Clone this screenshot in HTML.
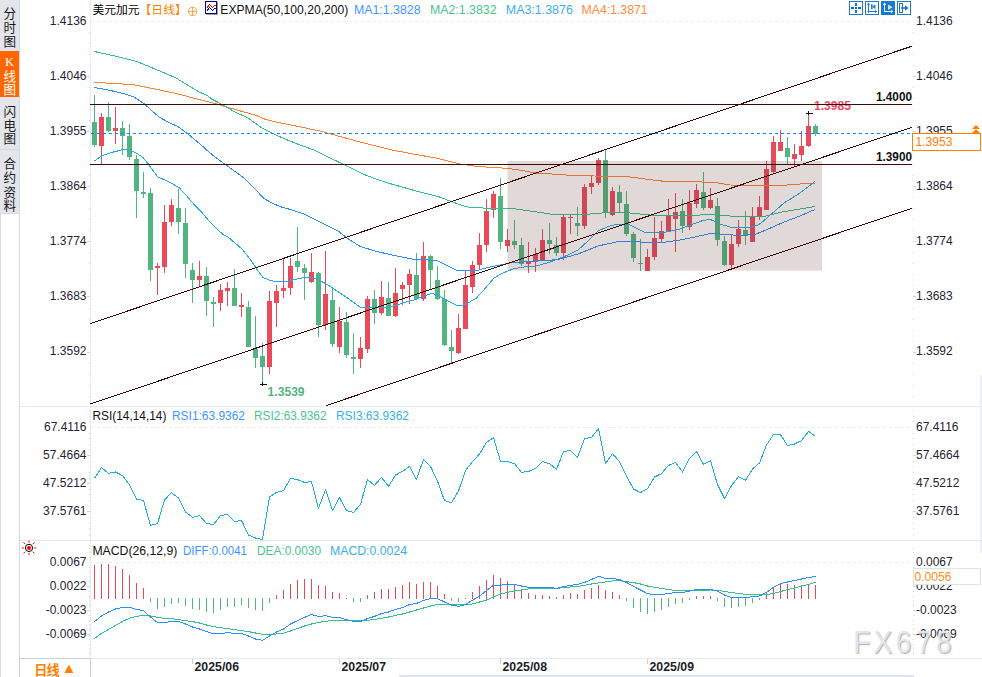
<!DOCTYPE html>
<html><head><meta charset="utf-8"><title>chart</title>
<style>html,body{margin:0;padding:0;background:#fff;}body{width:982px;height:677px;overflow:hidden;font-family:"Liberation Sans",sans-serif;}svg{display:block}</style>
</head><body>
<svg width="982" height="677" viewBox="0 0 982 677" font-family="'Liberation Sans', sans-serif">
<rect width="982" height="677" fill="#fff"/>
<g shape-rendering="crispEdges">
<rect x="0" y="0" width="19" height="213" fill="#e4e5ea"/>
<rect x="0" y="51" width="19" height="46" fill="#ff6600"/>
<rect x="0" y="149" width="19" height="1" fill="#d3d6dd"/>
<rect x="0" y="213" width="1" height="464" fill="#d5dbe3"/>
<rect x="19" y="0" width="1" height="677" fill="#d2dae3"/>
<rect x="0" y="213" width="19" height="1" fill="#d5dbe3"/>
</g>
<text x="3.4" y="18.09" font-size="12.6" font-family="'Liberation Sans', 'Noto Sans CJK SC', sans-serif" fill="#1a1a1a">分</text>
<text x="3.4" y="32.29" font-size="12.6" font-family="'Liberation Sans', 'Noto Sans CJK SC', sans-serif" fill="#1a1a1a">时</text>
<text x="3.4" y="45.59" font-size="12.6" font-family="'Liberation Sans', 'Noto Sans CJK SC', sans-serif" fill="#1a1a1a">图</text>
<text x="9.5" y="65.9" font-size="12.5" font-family="'Liberation Serif', serif" fill="#fff" text-anchor="middle">K</text>
<text x="3.4" y="80.99" font-size="12.6" font-family="'Liberation Sans', 'Noto Sans CJK SC', sans-serif" fill="#fff">线</text>
<text x="3.4" y="94.29" font-size="12.6" font-family="'Liberation Sans', 'Noto Sans CJK SC', sans-serif" fill="#fff">图</text>
<text x="3.4" y="115.89" font-size="12.6" font-family="'Liberation Sans', 'Noto Sans CJK SC', sans-serif" fill="#1a1a1a">闪</text>
<text x="3.4" y="129.79" font-size="12.6" font-family="'Liberation Sans', 'Noto Sans CJK SC', sans-serif" fill="#1a1a1a">电</text>
<text x="3.4" y="143.19" font-size="12.6" font-family="'Liberation Sans', 'Noto Sans CJK SC', sans-serif" fill="#1a1a1a">图</text>
<text x="3.4" y="167.99" font-size="12.6" font-family="'Liberation Sans', 'Noto Sans CJK SC', sans-serif" fill="#1a1a1a">合</text>
<text x="3.4" y="182.49" font-size="12.6" font-family="'Liberation Sans', 'Noto Sans CJK SC', sans-serif" fill="#1a1a1a">约</text>
<text x="3.4" y="196.99" font-size="12.6" font-family="'Liberation Sans', 'Noto Sans CJK SC', sans-serif" fill="#1a1a1a">资</text>
<text x="3.4" y="210.39" font-size="12.6" font-family="'Liberation Sans', 'Noto Sans CJK SC', sans-serif" fill="#1a1a1a">料</text>
<g shape-rendering="crispEdges">
<rect x="20" y="406" width="962" height="1" fill="#e3e9f0"/>
<rect x="20" y="540" width="962" height="1" fill="#e3e9f0"/>
<rect x="20" y="658" width="962" height="1" fill="#e3e9f0"/>
<rect x="90" y="0" width="1" height="677" fill="#e6ebf2"/>
<rect x="399" y="675" width="515" height="2" fill="#dfe5ec"/>
<rect x="980" y="375" width="2" height="178" fill="#ecf0f6"/>
</g>
<line x1="91" y1="21.5" x2="909" y2="21.5" stroke="#e5ecf3" stroke-width="1" stroke-dasharray="3,3"/>
<line x1="91" y1="427.5" x2="909" y2="427.5" stroke="#e5ecf3" stroke-width="1" stroke-dasharray="3,3"/>
<line x1="91" y1="562.5" x2="909" y2="562.5" stroke="#e5ecf3" stroke-width="1" stroke-dasharray="3,3"/>
<g shape-rendering="crispEdges">
<rect x="913" y="32" width="1" height="1" fill="#cdd4dd"/>
<rect x="913" y="43" width="1" height="1" fill="#cdd4dd"/>
<rect x="913" y="54" width="1" height="1" fill="#cdd4dd"/>
<rect x="913" y="65" width="1" height="1" fill="#cdd4dd"/>
<rect x="913" y="76" width="3" height="1" fill="#cdd4dd"/>
<rect x="913" y="87" width="1" height="1" fill="#cdd4dd"/>
<rect x="913" y="98" width="1" height="1" fill="#cdd4dd"/>
<rect x="913" y="109" width="1" height="1" fill="#cdd4dd"/>
<rect x="913" y="120" width="1" height="1" fill="#cdd4dd"/>
<rect x="913" y="131" width="3" height="1" fill="#cdd4dd"/>
<rect x="913" y="142" width="1" height="1" fill="#cdd4dd"/>
<rect x="913" y="153" width="1" height="1" fill="#cdd4dd"/>
<rect x="913" y="164" width="1" height="1" fill="#cdd4dd"/>
<rect x="913" y="175" width="1" height="1" fill="#cdd4dd"/>
<rect x="913" y="186" width="3" height="1" fill="#cdd4dd"/>
<rect x="913" y="197" width="1" height="1" fill="#cdd4dd"/>
<rect x="913" y="208" width="1" height="1" fill="#cdd4dd"/>
<rect x="913" y="219" width="1" height="1" fill="#cdd4dd"/>
<rect x="913" y="230" width="1" height="1" fill="#cdd4dd"/>
<rect x="913" y="241" width="3" height="1" fill="#cdd4dd"/>
<rect x="913" y="252" width="1" height="1" fill="#cdd4dd"/>
<rect x="913" y="263" width="1" height="1" fill="#cdd4dd"/>
<rect x="913" y="274" width="1" height="1" fill="#cdd4dd"/>
<rect x="913" y="285" width="1" height="1" fill="#cdd4dd"/>
<rect x="913" y="296" width="3" height="1" fill="#cdd4dd"/>
<rect x="913" y="308" width="1" height="1" fill="#cdd4dd"/>
<rect x="913" y="319" width="1" height="1" fill="#cdd4dd"/>
<rect x="913" y="330" width="1" height="1" fill="#cdd4dd"/>
<rect x="913" y="341" width="1" height="1" fill="#cdd4dd"/>
<rect x="913" y="352" width="3" height="1" fill="#cdd4dd"/>
<rect x="913" y="363" width="1" height="1" fill="#cdd4dd"/>
<rect x="913" y="374" width="1" height="1" fill="#cdd4dd"/>
<rect x="913" y="385" width="1" height="1" fill="#cdd4dd"/>
<rect x="913" y="396" width="1" height="1" fill="#cdd4dd"/>
<rect x="89" y="32" width="1" height="1" fill="#cdd4dd"/>
<rect x="89" y="43" width="1" height="1" fill="#cdd4dd"/>
<rect x="89" y="54" width="1" height="1" fill="#cdd4dd"/>
<rect x="89" y="65" width="1" height="1" fill="#cdd4dd"/>
<rect x="87" y="76" width="3" height="1" fill="#cdd4dd"/>
<rect x="89" y="87" width="1" height="1" fill="#cdd4dd"/>
<rect x="89" y="98" width="1" height="1" fill="#cdd4dd"/>
<rect x="89" y="109" width="1" height="1" fill="#cdd4dd"/>
<rect x="89" y="120" width="1" height="1" fill="#cdd4dd"/>
<rect x="87" y="131" width="3" height="1" fill="#cdd4dd"/>
<rect x="89" y="142" width="1" height="1" fill="#cdd4dd"/>
<rect x="89" y="153" width="1" height="1" fill="#cdd4dd"/>
<rect x="89" y="164" width="1" height="1" fill="#cdd4dd"/>
<rect x="89" y="175" width="1" height="1" fill="#cdd4dd"/>
<rect x="87" y="186" width="3" height="1" fill="#cdd4dd"/>
<rect x="89" y="197" width="1" height="1" fill="#cdd4dd"/>
<rect x="89" y="208" width="1" height="1" fill="#cdd4dd"/>
<rect x="89" y="219" width="1" height="1" fill="#cdd4dd"/>
<rect x="89" y="230" width="1" height="1" fill="#cdd4dd"/>
<rect x="87" y="241" width="3" height="1" fill="#cdd4dd"/>
<rect x="89" y="252" width="1" height="1" fill="#cdd4dd"/>
<rect x="89" y="263" width="1" height="1" fill="#cdd4dd"/>
<rect x="89" y="274" width="1" height="1" fill="#cdd4dd"/>
<rect x="89" y="285" width="1" height="1" fill="#cdd4dd"/>
<rect x="87" y="296" width="3" height="1" fill="#cdd4dd"/>
<rect x="89" y="308" width="1" height="1" fill="#cdd4dd"/>
<rect x="89" y="319" width="1" height="1" fill="#cdd4dd"/>
<rect x="89" y="330" width="1" height="1" fill="#cdd4dd"/>
<rect x="89" y="341" width="1" height="1" fill="#cdd4dd"/>
<rect x="87" y="352" width="3" height="1" fill="#cdd4dd"/>
<rect x="89" y="363" width="1" height="1" fill="#cdd4dd"/>
<rect x="89" y="374" width="1" height="1" fill="#cdd4dd"/>
<rect x="89" y="385" width="1" height="1" fill="#cdd4dd"/>
<rect x="89" y="396" width="1" height="1" fill="#cdd4dd"/>
<rect x="913" y="410" width="1" height="1" fill="#cdd4dd"/>
<rect x="913" y="416" width="1" height="1" fill="#cdd4dd"/>
<rect x="913" y="421" width="1" height="1" fill="#cdd4dd"/>
<rect x="913" y="433" width="1" height="1" fill="#cdd4dd"/>
<rect x="913" y="438" width="1" height="1" fill="#cdd4dd"/>
<rect x="913" y="444" width="1" height="1" fill="#cdd4dd"/>
<rect x="913" y="449" width="1" height="1" fill="#cdd4dd"/>
<rect x="913" y="455" width="3" height="1" fill="#cdd4dd"/>
<rect x="913" y="461" width="1" height="1" fill="#cdd4dd"/>
<rect x="913" y="466" width="1" height="1" fill="#cdd4dd"/>
<rect x="913" y="472" width="1" height="1" fill="#cdd4dd"/>
<rect x="913" y="478" width="1" height="1" fill="#cdd4dd"/>
<rect x="913" y="483" width="3" height="1" fill="#cdd4dd"/>
<rect x="913" y="489" width="1" height="1" fill="#cdd4dd"/>
<rect x="913" y="494" width="1" height="1" fill="#cdd4dd"/>
<rect x="913" y="500" width="1" height="1" fill="#cdd4dd"/>
<rect x="913" y="506" width="1" height="1" fill="#cdd4dd"/>
<rect x="913" y="511" width="3" height="1" fill="#cdd4dd"/>
<rect x="913" y="517" width="1" height="1" fill="#cdd4dd"/>
<rect x="913" y="523" width="1" height="1" fill="#cdd4dd"/>
<rect x="913" y="528" width="1" height="1" fill="#cdd4dd"/>
<rect x="913" y="534" width="1" height="1" fill="#cdd4dd"/>
<rect x="89" y="410" width="1" height="1" fill="#cdd4dd"/>
<rect x="89" y="416" width="1" height="1" fill="#cdd4dd"/>
<rect x="89" y="421" width="1" height="1" fill="#cdd4dd"/>
<rect x="89" y="433" width="1" height="1" fill="#cdd4dd"/>
<rect x="89" y="438" width="1" height="1" fill="#cdd4dd"/>
<rect x="89" y="444" width="1" height="1" fill="#cdd4dd"/>
<rect x="89" y="449" width="1" height="1" fill="#cdd4dd"/>
<rect x="87" y="455" width="3" height="1" fill="#cdd4dd"/>
<rect x="89" y="461" width="1" height="1" fill="#cdd4dd"/>
<rect x="89" y="466" width="1" height="1" fill="#cdd4dd"/>
<rect x="89" y="472" width="1" height="1" fill="#cdd4dd"/>
<rect x="89" y="478" width="1" height="1" fill="#cdd4dd"/>
<rect x="87" y="483" width="3" height="1" fill="#cdd4dd"/>
<rect x="89" y="489" width="1" height="1" fill="#cdd4dd"/>
<rect x="89" y="494" width="1" height="1" fill="#cdd4dd"/>
<rect x="89" y="500" width="1" height="1" fill="#cdd4dd"/>
<rect x="89" y="506" width="1" height="1" fill="#cdd4dd"/>
<rect x="87" y="511" width="3" height="1" fill="#cdd4dd"/>
<rect x="89" y="517" width="1" height="1" fill="#cdd4dd"/>
<rect x="89" y="523" width="1" height="1" fill="#cdd4dd"/>
<rect x="89" y="528" width="1" height="1" fill="#cdd4dd"/>
<rect x="89" y="534" width="1" height="1" fill="#cdd4dd"/>
<rect x="913" y="548" width="1" height="1" fill="#cdd4dd"/>
<rect x="913" y="552" width="1" height="1" fill="#cdd4dd"/>
<rect x="913" y="557" width="1" height="1" fill="#cdd4dd"/>
<rect x="913" y="567" width="1" height="1" fill="#cdd4dd"/>
<rect x="913" y="572" width="1" height="1" fill="#cdd4dd"/>
<rect x="913" y="576" width="1" height="1" fill="#cdd4dd"/>
<rect x="913" y="581" width="1" height="1" fill="#cdd4dd"/>
<rect x="913" y="586" width="3" height="1" fill="#cdd4dd"/>
<rect x="913" y="591" width="1" height="1" fill="#cdd4dd"/>
<rect x="913" y="596" width="1" height="1" fill="#cdd4dd"/>
<rect x="913" y="600" width="1" height="1" fill="#cdd4dd"/>
<rect x="913" y="605" width="1" height="1" fill="#cdd4dd"/>
<rect x="913" y="610" width="3" height="1" fill="#cdd4dd"/>
<rect x="913" y="615" width="1" height="1" fill="#cdd4dd"/>
<rect x="913" y="620" width="1" height="1" fill="#cdd4dd"/>
<rect x="913" y="624" width="1" height="1" fill="#cdd4dd"/>
<rect x="913" y="629" width="1" height="1" fill="#cdd4dd"/>
<rect x="913" y="634" width="3" height="1" fill="#cdd4dd"/>
<rect x="913" y="639" width="1" height="1" fill="#cdd4dd"/>
<rect x="913" y="644" width="1" height="1" fill="#cdd4dd"/>
<rect x="913" y="648" width="1" height="1" fill="#cdd4dd"/>
<rect x="913" y="653" width="1" height="1" fill="#cdd4dd"/>
<rect x="89" y="548" width="1" height="1" fill="#cdd4dd"/>
<rect x="89" y="552" width="1" height="1" fill="#cdd4dd"/>
<rect x="89" y="557" width="1" height="1" fill="#cdd4dd"/>
<rect x="89" y="567" width="1" height="1" fill="#cdd4dd"/>
<rect x="89" y="572" width="1" height="1" fill="#cdd4dd"/>
<rect x="89" y="576" width="1" height="1" fill="#cdd4dd"/>
<rect x="89" y="581" width="1" height="1" fill="#cdd4dd"/>
<rect x="87" y="586" width="3" height="1" fill="#cdd4dd"/>
<rect x="89" y="591" width="1" height="1" fill="#cdd4dd"/>
<rect x="89" y="596" width="1" height="1" fill="#cdd4dd"/>
<rect x="89" y="600" width="1" height="1" fill="#cdd4dd"/>
<rect x="89" y="605" width="1" height="1" fill="#cdd4dd"/>
<rect x="87" y="610" width="3" height="1" fill="#cdd4dd"/>
<rect x="89" y="615" width="1" height="1" fill="#cdd4dd"/>
<rect x="89" y="620" width="1" height="1" fill="#cdd4dd"/>
<rect x="89" y="624" width="1" height="1" fill="#cdd4dd"/>
<rect x="89" y="629" width="1" height="1" fill="#cdd4dd"/>
<rect x="87" y="634" width="3" height="1" fill="#cdd4dd"/>
<rect x="89" y="639" width="1" height="1" fill="#cdd4dd"/>
<rect x="89" y="644" width="1" height="1" fill="#cdd4dd"/>
<rect x="89" y="648" width="1" height="1" fill="#cdd4dd"/>
<rect x="89" y="653" width="1" height="1" fill="#cdd4dd"/>
</g>
<text x="86.5" y="24.7" font-size="12" fill="#1f2433" text-anchor="end">1.4136</text>
<text x="916" y="24.7" font-size="12" fill="#1f2433">1.4136</text>
<text x="86.5" y="79.8" font-size="12" fill="#1f2433" text-anchor="end">1.4046</text>
<text x="916" y="79.8" font-size="12" fill="#1f2433">1.4046</text>
<text x="86.5" y="134.9" font-size="12" fill="#1f2433" text-anchor="end">1.3955</text>
<text x="916" y="134.9" font-size="12" fill="#1f2433">1.3955</text>
<text x="86.5" y="190.0" font-size="12" fill="#1f2433" text-anchor="end">1.3864</text>
<text x="916" y="190.0" font-size="12" fill="#1f2433">1.3864</text>
<text x="86.5" y="245.1" font-size="12" fill="#1f2433" text-anchor="end">1.3774</text>
<text x="916" y="245.1" font-size="12" fill="#1f2433">1.3774</text>
<text x="86.5" y="300.2" font-size="12" fill="#1f2433" text-anchor="end">1.3683</text>
<text x="916" y="300.2" font-size="12" fill="#1f2433">1.3683</text>
<text x="86.5" y="355.3" font-size="12" fill="#1f2433" text-anchor="end">1.3592</text>
<text x="916" y="355.3" font-size="12" fill="#1f2433">1.3592</text>
<text x="86.5" y="430.7" font-size="12" fill="#1f2433" text-anchor="end">67.4116</text>
<text x="916" y="430.7" font-size="12" fill="#1f2433">67.4116</text>
<text x="86.5" y="458.8" font-size="12" fill="#1f2433" text-anchor="end">57.4664</text>
<text x="916" y="458.8" font-size="12" fill="#1f2433">57.4664</text>
<text x="86.5" y="486.9" font-size="12" fill="#1f2433" text-anchor="end">47.5212</text>
<text x="916" y="486.9" font-size="12" fill="#1f2433">47.5212</text>
<text x="86.5" y="515.0" font-size="12" fill="#1f2433" text-anchor="end">37.5761</text>
<text x="916" y="515.0" font-size="12" fill="#1f2433">37.5761</text>
<text x="86.5" y="566.3" font-size="12" fill="#1f2433" text-anchor="end">0.0067</text>
<text x="916" y="566.3" font-size="12" fill="#1f2433">0.0067</text>
<text x="86.5" y="590.3" font-size="12" fill="#1f2433" text-anchor="end">0.0022</text>
<text x="916" y="590.3" font-size="12" fill="#1f2433">0.0022</text>
<text x="86.5" y="614.3" font-size="12" fill="#1f2433" text-anchor="end">-0.0023</text>
<text x="916" y="614.3" font-size="12" fill="#1f2433">-0.0023</text>
<text x="86.5" y="638.3" font-size="12" fill="#1f2433" text-anchor="end">-0.0069</text>
<text x="916" y="638.3" font-size="12" fill="#1f2433">-0.0069</text>
<g shape-rendering="crispEdges">
<rect x="94.0" y="95" width="1" height="52" fill="#52b581"/>
<rect x="92.0" y="122" width="5" height="23" fill="#52b581"/>
<rect x="101.0" y="113" width="1" height="51" fill="#e84a5a"/>
<rect x="99.0" y="117" width="5" height="29" fill="#e84a5a"/>
<rect x="108.0" y="102" width="1" height="30" fill="#52b581"/>
<rect x="106.0" y="117" width="5" height="14" fill="#52b581"/>
<rect x="115.0" y="107" width="1" height="37" fill="#e84a5a"/>
<rect x="113.0" y="128" width="5" height="3" fill="#e84a5a"/>
<rect x="122.0" y="121" width="1" height="34" fill="#52b581"/>
<rect x="120.0" y="128" width="5" height="8" fill="#52b581"/>
<rect x="129.0" y="124" width="1" height="36" fill="#52b581"/>
<rect x="127.0" y="136" width="5" height="21" fill="#52b581"/>
<rect x="136.0" y="155" width="1" height="63" fill="#52b581"/>
<rect x="134.0" y="159" width="5" height="32" fill="#52b581"/>
<rect x="143.0" y="172" width="1" height="26" fill="#52b581"/>
<rect x="141.0" y="192" width="5" height="2" fill="#52b581"/>
<rect x="150.0" y="188" width="1" height="93" fill="#52b581"/>
<rect x="148.0" y="193" width="5" height="77" fill="#52b581"/>
<rect x="157.0" y="263" width="1" height="32" fill="#e84a5a"/>
<rect x="155.0" y="266" width="5" height="2" fill="#e84a5a"/>
<rect x="164.0" y="205" width="1" height="68" fill="#e84a5a"/>
<rect x="162.0" y="222" width="5" height="45" fill="#e84a5a"/>
<rect x="171.0" y="199" width="1" height="27" fill="#e84a5a"/>
<rect x="169.0" y="205" width="5" height="17" fill="#e84a5a"/>
<rect x="178.0" y="189" width="1" height="45" fill="#52b581"/>
<rect x="176.0" y="208" width="5" height="14" fill="#52b581"/>
<rect x="185.0" y="208" width="1" height="70" fill="#52b581"/>
<rect x="183.0" y="223" width="5" height="41" fill="#52b581"/>
<rect x="192.0" y="263" width="1" height="40" fill="#52b581"/>
<rect x="190.0" y="270" width="5" height="10" fill="#52b581"/>
<rect x="199.0" y="261" width="1" height="25" fill="#e84a5a"/>
<rect x="197.0" y="276" width="5" height="4" fill="#e84a5a"/>
<rect x="206.0" y="267" width="1" height="49" fill="#52b581"/>
<rect x="204.0" y="276" width="5" height="25" fill="#52b581"/>
<rect x="213.0" y="297" width="1" height="30" fill="#52b581"/>
<rect x="211.0" y="302" width="5" height="2" fill="#52b581"/>
<rect x="220.0" y="284" width="1" height="27" fill="#e84a5a"/>
<rect x="218.0" y="290" width="5" height="13" fill="#e84a5a"/>
<rect x="227.0" y="282" width="1" height="24" fill="#e84a5a"/>
<rect x="225.0" y="288" width="5" height="3" fill="#e84a5a"/>
<rect x="234.0" y="269" width="1" height="37" fill="#52b581"/>
<rect x="232.0" y="288" width="5" height="18" fill="#52b581"/>
<rect x="241.0" y="293" width="1" height="24" fill="#e84a5a"/>
<rect x="239.0" y="305" width="5" height="2" fill="#e84a5a"/>
<rect x="248.0" y="301" width="1" height="46" fill="#52b581"/>
<rect x="246.0" y="307" width="5" height="40" fill="#52b581"/>
<rect x="255.0" y="316" width="1" height="52" fill="#52b581"/>
<rect x="253.0" y="349" width="5" height="9" fill="#52b581"/>
<rect x="262.0" y="343" width="1" height="42" fill="#52b581"/>
<rect x="260.0" y="356" width="5" height="11" fill="#52b581"/>
<rect x="269.0" y="291" width="1" height="83" fill="#e84a5a"/>
<rect x="267.0" y="301" width="5" height="66" fill="#e84a5a"/>
<rect x="276.0" y="285" width="1" height="42" fill="#e84a5a"/>
<rect x="274.0" y="291" width="5" height="12" fill="#e84a5a"/>
<rect x="283.0" y="259" width="1" height="39" fill="#e84a5a"/>
<rect x="281.0" y="288" width="5" height="3" fill="#e84a5a"/>
<rect x="290.0" y="258" width="1" height="37" fill="#e84a5a"/>
<rect x="288.0" y="266" width="5" height="22" fill="#e84a5a"/>
<rect x="297.0" y="227" width="1" height="45" fill="#52b581"/>
<rect x="295.0" y="261" width="5" height="6" fill="#52b581"/>
<rect x="304.0" y="264" width="1" height="36" fill="#52b581"/>
<rect x="302.0" y="268" width="5" height="5" fill="#52b581"/>
<rect x="311.0" y="253" width="1" height="30" fill="#e84a5a"/>
<rect x="309.0" y="272" width="5" height="10" fill="#e84a5a"/>
<rect x="318.0" y="272" width="1" height="65" fill="#52b581"/>
<rect x="316.0" y="273" width="5" height="52" fill="#52b581"/>
<rect x="325.0" y="251" width="1" height="79" fill="#e84a5a"/>
<rect x="323.0" y="294" width="5" height="31" fill="#e84a5a"/>
<rect x="332.0" y="288" width="1" height="59" fill="#52b581"/>
<rect x="330.0" y="300" width="5" height="44" fill="#52b581"/>
<rect x="339.0" y="307" width="1" height="46" fill="#e84a5a"/>
<rect x="337.0" y="321" width="5" height="26" fill="#e84a5a"/>
<rect x="346.0" y="312" width="1" height="46" fill="#52b581"/>
<rect x="344.0" y="322" width="5" height="33" fill="#52b581"/>
<rect x="353.0" y="333" width="1" height="41" fill="#52b581"/>
<rect x="351.0" y="357" width="5" height="2" fill="#52b581"/>
<rect x="360.0" y="337" width="1" height="31" fill="#e84a5a"/>
<rect x="358.0" y="348" width="5" height="11" fill="#e84a5a"/>
<rect x="367.0" y="296" width="1" height="57" fill="#e84a5a"/>
<rect x="365.0" y="299" width="5" height="50" fill="#e84a5a"/>
<rect x="374.0" y="290" width="1" height="34" fill="#52b581"/>
<rect x="372.0" y="299" width="5" height="14" fill="#52b581"/>
<rect x="381.0" y="281" width="1" height="34" fill="#e84a5a"/>
<rect x="379.0" y="297" width="5" height="16" fill="#e84a5a"/>
<rect x="388.0" y="282" width="1" height="34" fill="#52b581"/>
<rect x="386.0" y="298" width="5" height="18" fill="#52b581"/>
<rect x="395.0" y="268" width="1" height="49" fill="#e84a5a"/>
<rect x="393.0" y="293" width="5" height="23" fill="#e84a5a"/>
<rect x="402.0" y="282" width="1" height="23" fill="#e84a5a"/>
<rect x="400.0" y="285" width="5" height="4" fill="#e84a5a"/>
<rect x="409.0" y="269" width="1" height="35" fill="#e84a5a"/>
<rect x="407.0" y="274" width="5" height="11" fill="#e84a5a"/>
<rect x="416.0" y="253" width="1" height="46" fill="#52b581"/>
<rect x="414.0" y="275" width="5" height="24" fill="#52b581"/>
<rect x="423.0" y="242" width="1" height="59" fill="#e84a5a"/>
<rect x="421.0" y="256" width="5" height="43" fill="#e84a5a"/>
<rect x="430.0" y="255" width="1" height="35" fill="#52b581"/>
<rect x="428.0" y="256" width="5" height="14" fill="#52b581"/>
<rect x="437.0" y="266" width="1" height="34" fill="#52b581"/>
<rect x="435.0" y="280" width="5" height="19" fill="#52b581"/>
<rect x="444.0" y="290" width="1" height="56" fill="#52b581"/>
<rect x="442.0" y="299" width="5" height="46" fill="#52b581"/>
<rect x="451.0" y="330" width="1" height="33" fill="#52b581"/>
<rect x="449.0" y="347" width="5" height="4" fill="#52b581"/>
<rect x="458.0" y="314" width="1" height="40" fill="#e84a5a"/>
<rect x="456.0" y="328" width="5" height="25" fill="#e84a5a"/>
<rect x="465.0" y="271" width="1" height="58" fill="#e84a5a"/>
<rect x="463.0" y="285" width="5" height="44" fill="#e84a5a"/>
<rect x="472.0" y="261" width="1" height="32" fill="#e84a5a"/>
<rect x="470.0" y="265" width="5" height="22" fill="#e84a5a"/>
<rect x="479.0" y="233" width="1" height="36" fill="#e84a5a"/>
<rect x="477.0" y="245" width="5" height="20" fill="#e84a5a"/>
<rect x="486.0" y="199" width="1" height="53" fill="#e84a5a"/>
<rect x="484.0" y="211" width="5" height="34" fill="#e84a5a"/>
<rect x="493.0" y="191" width="1" height="27" fill="#e84a5a"/>
<rect x="491.0" y="194" width="5" height="16" fill="#e84a5a"/>
<rect x="500.0" y="178" width="1" height="71" fill="#52b581"/>
<rect x="498.0" y="196" width="5" height="46" fill="#52b581"/>
<rect x="507.0" y="229" width="1" height="23" fill="#e84a5a"/>
<rect x="505.0" y="240" width="5" height="6" fill="#e84a5a"/>
<rect x="514.0" y="220" width="1" height="29" fill="#52b581"/>
<rect x="512.0" y="241" width="5" height="4" fill="#52b581"/>
<rect x="521.0" y="238" width="1" height="28" fill="#52b581"/>
<rect x="519.0" y="245" width="5" height="19" fill="#52b581"/>
<rect x="528.0" y="242" width="1" height="31" fill="#e84a5a"/>
<rect x="526.0" y="262" width="5" height="2" fill="#e84a5a"/>
<rect x="535.0" y="248" width="1" height="24" fill="#e84a5a"/>
<rect x="533.0" y="254" width="5" height="8" fill="#e84a5a"/>
<rect x="542.0" y="229" width="1" height="32" fill="#e84a5a"/>
<rect x="540.0" y="240" width="5" height="20" fill="#e84a5a"/>
<rect x="549.0" y="223" width="1" height="31" fill="#52b581"/>
<rect x="547.0" y="240" width="5" height="4" fill="#52b581"/>
<rect x="556.0" y="237" width="1" height="19" fill="#52b581"/>
<rect x="554.0" y="245" width="5" height="8" fill="#52b581"/>
<rect x="563.0" y="215" width="1" height="45" fill="#e84a5a"/>
<rect x="561.0" y="217" width="5" height="36" fill="#e84a5a"/>
<rect x="570.0" y="214" width="1" height="20" fill="#e84a5a"/>
<rect x="568.0" y="217" width="5" height="1" fill="#e84a5a"/>
<rect x="577.0" y="207" width="1" height="29" fill="#52b581"/>
<rect x="575.0" y="223" width="5" height="3" fill="#52b581"/>
<rect x="584.0" y="184" width="1" height="45" fill="#e84a5a"/>
<rect x="582.0" y="187" width="5" height="39" fill="#e84a5a"/>
<rect x="591.0" y="175" width="1" height="19" fill="#e84a5a"/>
<rect x="589.0" y="183" width="5" height="4" fill="#e84a5a"/>
<rect x="598.0" y="158" width="1" height="27" fill="#e84a5a"/>
<rect x="596.0" y="160" width="5" height="23" fill="#e84a5a"/>
<rect x="605.0" y="150" width="1" height="68" fill="#52b581"/>
<rect x="603.0" y="160" width="5" height="53" fill="#52b581"/>
<rect x="612.0" y="187" width="1" height="29" fill="#e84a5a"/>
<rect x="610.0" y="191" width="5" height="24" fill="#e84a5a"/>
<rect x="619.0" y="185" width="1" height="27" fill="#52b581"/>
<rect x="617.0" y="192" width="5" height="11" fill="#52b581"/>
<rect x="626.0" y="191" width="1" height="45" fill="#52b581"/>
<rect x="624.0" y="204" width="5" height="30" fill="#52b581"/>
<rect x="633.0" y="232" width="1" height="30" fill="#52b581"/>
<rect x="631.0" y="234" width="5" height="24" fill="#52b581"/>
<rect x="640.0" y="239" width="1" height="32" fill="#52b581"/>
<rect x="638.0" y="263" width="5" height="1" fill="#52b581"/>
<rect x="647.0" y="249" width="1" height="22" fill="#e84a5a"/>
<rect x="645.0" y="257" width="5" height="14" fill="#e84a5a"/>
<rect x="654.0" y="217" width="1" height="43" fill="#e84a5a"/>
<rect x="652.0" y="238" width="5" height="19" fill="#e84a5a"/>
<rect x="661.0" y="221" width="1" height="21" fill="#e84a5a"/>
<rect x="659.0" y="231" width="5" height="8" fill="#e84a5a"/>
<rect x="668.0" y="199" width="1" height="33" fill="#e84a5a"/>
<rect x="666.0" y="216" width="5" height="15" fill="#e84a5a"/>
<rect x="675.0" y="193" width="1" height="59" fill="#e84a5a"/>
<rect x="673.0" y="212" width="5" height="7" fill="#e84a5a"/>
<rect x="682.0" y="199" width="1" height="34" fill="#52b581"/>
<rect x="680.0" y="211" width="5" height="15" fill="#52b581"/>
<rect x="689.0" y="190" width="1" height="40" fill="#e84a5a"/>
<rect x="687.0" y="203" width="5" height="24" fill="#e84a5a"/>
<rect x="696.0" y="184" width="1" height="24" fill="#e84a5a"/>
<rect x="694.0" y="190" width="5" height="14" fill="#e84a5a"/>
<rect x="703.0" y="172" width="1" height="38" fill="#52b581"/>
<rect x="701.0" y="192" width="5" height="16" fill="#52b581"/>
<rect x="710.0" y="188" width="1" height="21" fill="#e84a5a"/>
<rect x="708.0" y="200" width="5" height="8" fill="#e84a5a"/>
<rect x="717.0" y="198" width="1" height="48" fill="#52b581"/>
<rect x="715.0" y="206" width="5" height="34" fill="#52b581"/>
<rect x="724.0" y="236" width="1" height="30" fill="#52b581"/>
<rect x="722.0" y="241" width="5" height="24" fill="#52b581"/>
<rect x="731.0" y="234" width="1" height="36" fill="#e84a5a"/>
<rect x="729.0" y="244" width="5" height="21" fill="#e84a5a"/>
<rect x="738.0" y="220" width="1" height="27" fill="#e84a5a"/>
<rect x="736.0" y="229" width="5" height="15" fill="#e84a5a"/>
<rect x="745.0" y="211" width="1" height="34" fill="#52b581"/>
<rect x="743.0" y="230" width="5" height="6" fill="#52b581"/>
<rect x="752.0" y="207" width="1" height="35" fill="#e84a5a"/>
<rect x="750.0" y="216" width="5" height="26" fill="#e84a5a"/>
<rect x="759.0" y="196" width="1" height="24" fill="#e84a5a"/>
<rect x="757.0" y="207" width="5" height="9" fill="#e84a5a"/>
<rect x="766.0" y="161" width="1" height="49" fill="#e84a5a"/>
<rect x="764.0" y="169" width="5" height="41" fill="#e84a5a"/>
<rect x="773.0" y="136" width="1" height="38" fill="#e84a5a"/>
<rect x="771.0" y="142" width="5" height="30" fill="#e84a5a"/>
<rect x="780.0" y="130" width="1" height="21" fill="#e84a5a"/>
<rect x="778.0" y="142" width="5" height="9" fill="#e84a5a"/>
<rect x="787.0" y="137" width="1" height="27" fill="#52b581"/>
<rect x="785.0" y="148" width="5" height="9" fill="#52b581"/>
<rect x="794.0" y="144" width="1" height="23" fill="#e84a5a"/>
<rect x="792.0" y="154" width="5" height="5" fill="#e84a5a"/>
<rect x="801.0" y="131" width="1" height="30" fill="#e84a5a"/>
<rect x="799.0" y="146" width="5" height="9" fill="#e84a5a"/>
<rect x="808.0" y="114" width="1" height="33" fill="#e84a5a"/>
<rect x="806.0" y="126" width="5" height="20" fill="#e84a5a"/>
<rect x="815.0" y="124" width="1" height="12" fill="#52b581"/>
<rect x="813.0" y="126" width="5" height="8" fill="#52b581"/>
</g>
<polyline points="94.1,82.4 115.0,83.5 133.0,84.6 155.0,89.0 175.7,93.4 197.0,99.0 218.0,104.4 237.0,110.0 256.0,115.4 266.0,119.6 276.0,122.0 286.4,124.0 320.0,131.0 360.0,142.0 392.0,150.0 416.0,154.5 438.0,158.4 450.0,161.5 460.0,164.0 476.4,166.4 492.0,167.4 508.0,168.4 522.0,170.5 536.0,173.0 552.0,174.0 566.0,175.0 594.0,176.0 630.0,177.0 650.0,179.6 666.4,181.6 680.0,181.4 690.0,181.6 714.0,182.4 722.0,183.7 730.0,185.0 760.0,185.6 780.0,185.6 800.0,184.0 815.0,183.0" fill="none" stroke="#ff8030" stroke-width="1" stroke-linejoin="round" shape-rendering="crispEdges"/>
<polyline points="94.1,51.5 115.0,56.0 136.8,61.5 155.0,69.0 175.7,77.8 190.0,86.5 200.0,92.4 207.0,95.3 212.0,99.3 219.0,102.8 224.0,105.5 230.0,109.2 236.0,112.5 248.0,118.0 262.0,128.0 275.0,134.5 286.4,139.6 300.0,145.0 314.0,150.0 328.0,157.0 342.0,163.6 353.0,169.0 364.0,174.4 376.0,179.0 388.0,183.0 402.0,187.0 416.0,191.0 428.0,194.0 438.0,196.4 446.0,199.5 454.0,202.4 462.0,205.5 468.0,207.0 476.4,207.6 490.0,208.4 516.0,209.0 534.0,211.5 550.0,214.0 566.0,215.0 590.0,214.0 610.0,212.4 630.0,213.0 650.0,215.0 666.4,215.6 690.0,215.6 710.0,214.4 730.0,216.0 750.0,217.0 766.0,216.0 780.0,212.4 800.0,209.0 815.0,206.6" fill="none" stroke="#33c08c" stroke-width="1" stroke-linejoin="round" shape-rendering="crispEdges"/>
<polyline points="94.1,87.4 108.0,90.0 123.0,93.4 134.0,97.0 144.0,103.6 151.0,110.0 159.0,117.0 168.0,122.0 178.0,126.6 188.0,134.0 200.0,144.0 210.0,153.0 226.0,165.0 244.0,178.0 254.0,188.0 264.0,198.6 272.0,203.0 280.0,206.6 292.0,210.0 304.0,214.0 320.0,222.0 338.0,231.0 350.0,240.0 360.0,246.4 375.0,251.0 392.0,255.0 414.0,259.4 428.0,260.0 436.0,260.0 446.0,265.0 456.0,270.0 463.0,270.6 476.4,270.6 490.0,267.0 510.0,263.0 536.0,261.0 558.0,259.6 578.0,254.0 598.0,246.0 618.0,241.6 630.0,241.0 650.0,243.0 666.4,242.0 680.0,240.0 695.0,237.0 710.0,233.6 720.0,234.0 740.0,235.6 756.0,234.0 766.0,230.0 784.0,222.0 800.0,216.0 815.0,209.4" fill="none" stroke="#2a8cff" stroke-width="1" stroke-linejoin="round" shape-rendering="crispEdges"/>
<polyline points="94.4,161.0 102.0,155.6 112.0,152.4 123.0,149.6 130.0,150.4 137.0,153.5 143.0,157.5 148.0,163.6 151.0,168.0 158.0,177.0 170.0,182.4 179.0,187.6 186.0,195.0 194.0,204.4 201.5,212.0 209.5,221.5 217.0,229.2 223.0,234.4 228.0,237.0 242.0,249.0 250.0,259.0 256.0,268.0 263.0,277.4 269.0,280.0 276.0,281.6 286.4,282.0 294.0,279.5 302.0,278.0 311.0,277.5 319.0,280.0 328.0,285.0 337.0,291.0 346.0,297.0 353.0,302.0 360.0,307.0 374.0,307.0 388.0,307.4 400.0,304.0 408.0,301.5 416.0,299.4 424.0,296.0 432.0,293.4 438.0,295.0 444.0,299.0 451.0,302.5 458.0,306.0 463.0,305.0 468.0,303.0 476.4,298.0 482.0,292.0 488.0,285.2 494.0,278.0 503.0,273.0 513.0,269.0 524.0,267.0 536.0,266.0 547.0,263.0 558.0,259.0 568.0,255.0 578.0,250.0 588.0,241.0 598.0,231.0 608.0,226.5 618.0,224.0 630.0,225.0 638.0,229.0 646.0,233.0 656.0,232.5 666.4,232.0 680.0,229.0 688.0,226.0 696.0,223.0 703.0,220.5 710.0,219.4 715.0,221.5 720.0,224.0 730.0,227.0 746.0,228.0 758.0,225.0 763.0,221.5 768.0,217.0 776.0,210.0 784.0,203.0 792.0,198.0 800.0,193.0 808.0,187.0 815.0,181.4" fill="none" stroke="#22aae8" stroke-width="1" stroke-linejoin="round" shape-rendering="crispEdges"/>
<rect x="507.5" y="161" width="314.5" height="109.6" fill="rgba(105,60,60,0.2)"/>
<g shape-rendering="crispEdges">
<rect x="90" y="104" width="822" height="1" fill="#400a0a"/>
<rect x="90" y="164" width="822" height="1" fill="#400a0a"/>
</g>
<line x1="90" y1="323.7" x2="911.8" y2="46.2" stroke="#400a0a" stroke-width="1" shape-rendering="crispEdges"/>
<line x1="90" y1="404.1" x2="911.8" y2="127.3" stroke="#400a0a" stroke-width="1" shape-rendering="crispEdges"/>
<line x1="326" y1="405.6" x2="911.8" y2="208.3" stroke="#400a0a" stroke-width="1" shape-rendering="crispEdges"/>
<line x1="91" y1="133.5" x2="912" y2="133.5" stroke="#0a84ff" stroke-width="1" stroke-dasharray="3,3" shape-rendering="crispEdges"/>
<text x="876" y="100.5" font-size="12" fill="#111" font-weight="bold" textLength="36" lengthAdjust="spacingAndGlyphs">1.4000</text>
<text x="876" y="160.8" font-size="12" fill="#111" font-weight="bold" textLength="36" lengthAdjust="spacingAndGlyphs">1.3900</text>
<text x="814" y="110" font-size="12" fill="#ee4a64" font-weight="bold" textLength="37" lengthAdjust="spacingAndGlyphs">1.3985</text>
<rect x="810" y="104" width="50" height="1" fill="#400a0a" shape-rendering="crispEdges"/>
<text x="267.6" y="395.8" font-size="12" fill="#52b581" font-weight="bold" textLength="37" lengthAdjust="spacingAndGlyphs">1.3539</text>
<g shape-rendering="crispEdges" fill="#111"><rect x="806" y="113" width="7" height="1"/><rect x="808" y="111" width="1" height="4"/><rect x="260" y="384" width="7" height="1"/><rect x="262" y="382" width="1" height="4"/></g>
<g shape-rendering="crispEdges"><rect x="912.5" y="133.5" width="68" height="17" fill="#fff" stroke="#ff8000" stroke-width="1"/></g>
<text x="915.5" y="146" font-size="12" fill="#ff8000" textLength="37" lengthAdjust="spacingAndGlyphs">1.3953</text>
<path d="M976 125 L980 129 L972 129 Z M976 129 L980.5 133.5 L971.5 133.5 Z" fill="#ff8000"/>
<text x="92.4 104.15 115.9 127.65" y="14.4" font-size="11.8" font-family="'Liberation Sans', 'Noto Sans CJK SC', sans-serif" fill="#000">美元加元</text>
<text x="139.4 151.3 163.2 175.1" y="14.4" font-size="11.8" font-family="'Liberation Sans', 'Noto Sans CJK SC', sans-serif" fill="#ff7f00">【日线】</text>
<g stroke="#ff8a10" stroke-width="0.75" fill="none"><circle cx="192.6" cy="11.4" r="4.1"/><line x1="188.5" y1="11.4" x2="196.7" y2="11.4"/><line x1="192.6" y1="7.3" x2="192.6" y2="15.5"/></g>
<g shape-rendering="crispEdges"><rect x="217" y="2" width="1" height="13" fill="#9c9c94"/><rect x="206" y="14" width="12" height="1" fill="#9c9c94"/><rect x="205.5" y="1.5" width="11" height="12" fill="#fff" stroke="#00008c" stroke-width="1"/><polyline points="206.5,8.5 209.5,4.5 212.5,7.5 214.5,5.5 216,5.5" fill="none" stroke="#ff0000" stroke-width="1"/><polyline points="206.5,11.5 209.5,7.5 212.5,10.5 214.5,8.5 216,8.5" fill="none" stroke="#0000ff" stroke-width="1"/></g>
<text x="220.3" y="13.7" font-size="12" fill="#111" textLength="128" lengthAdjust="spacingAndGlyphs">EXPMA(50,100,20,200)</text>
<text x="354" y="13.7" font-size="12" fill="#3d96ff" textLength="66.5" lengthAdjust="spacingAndGlyphs">MA1:1.3828</text>
<text x="430" y="13.7" font-size="12" fill="#4cc38c" textLength="66.5" lengthAdjust="spacingAndGlyphs">MA2:1.3832</text>
<text x="505.8" y="13.7" font-size="12" fill="#3aaeea" textLength="67" lengthAdjust="spacingAndGlyphs">MA3:1.3876</text>
<text x="581.6" y="13.7" font-size="12" fill="#ff8a3d" textLength="66" lengthAdjust="spacingAndGlyphs">MA4:1.3871</text>
<g shape-rendering="crispEdges">
<rect x="849.5" y="1.5" width="13" height="13" fill="#fff" stroke="#1979ca" stroke-width="1"/>
<rect x="865.5" y="1.5" width="13" height="13" fill="#fff" stroke="#1979ca" stroke-width="1"/>
<rect x="881.5" y="1.5" width="13" height="13" fill="#1979ca" stroke="#1979ca" stroke-width="1"/>
<rect x="897.5" y="1.5" width="13" height="13" fill="#fff" stroke="#1979ca" stroke-width="1"/>
<g fill="#1979ca"><rect x="851" y="7" width="3" height="2"/><rect x="858" y="7" width="3" height="2"/><rect x="855" y="3" width="2" height="3"/><rect x="855" y="10" width="2" height="3"/><rect x="855" y="7" width="2" height="2"/></g>
</g>
<g stroke="#1979ca" fill="#1979ca" stroke-width="1"><line x1="868.5" y1="4" x2="868.5" y2="12"/><line x1="868" y1="11.5" x2="876" y2="11.5"/><path d="M868.5 2.5 l1.8 2.2 h-3.6z M877.2 11.5 l-2.2 1.8 v-3.6z M868.5 13 l1.5 -1.5 h-3z" stroke="none"/><rect x="871" y="4.3" width="1.6" height="4.9" stroke="none"/><path d="M872.4 6.75 l3 -2.6 v5.2z" stroke="none"/></g>
<g stroke="#fff" fill="#fff" stroke-width="1"><line x1="884.5" y1="4" x2="884.5" y2="12"/><line x1="884" y1="11.5" x2="892" y2="11.5"/><path d="M884.5 2.5 l1.8 2.2 h-3.6z M893.2 11.5 l-2.2 1.8 v-3.6z" stroke="none"/><path d="M888 4.5 l4.6 2.8 l-4.6 2.8z" fill="#cfe6fa" stroke="none"/></g>
<g stroke="#1979ca" fill="none" stroke-width="1.2"><rect x="899.5" y="3.5" width="3" height="9" stroke-width="1" shape-rendering="crispEdges"/><line x1="901" y1="8" x2="905.5" y2="8" stroke-width="1.6"/><path d="M905 5.2 l3.6 2.8 l-3.6 2.8z" fill="#1979ca" stroke="none"/></g>
<text x="92.4" y="419.8" font-size="12" fill="#111" textLength="74" lengthAdjust="spacingAndGlyphs">RSI(14,14,14)</text>
<text x="172" y="419.8" font-size="12" fill="#3d96ff" textLength="73" lengthAdjust="spacingAndGlyphs">RSI1:63.9362</text>
<text x="254" y="419.8" font-size="12" fill="#4cc38c" textLength="72.5" lengthAdjust="spacingAndGlyphs">RSI2:63.9362</text>
<text x="336" y="419.8" font-size="12" fill="#3aaeea" textLength="73" lengthAdjust="spacingAndGlyphs">RSI3:63.9362</text>
<polyline points="94.5,478.4 101.5,467.6 108.5,473.4 115.5,472.0 122.5,475.6 129.5,485.0 136.5,499.0 143.5,500.6 150.5,525.4 157.5,523.6 164.5,500.0 171.5,492.6 178.5,498.0 185.5,512.0 192.5,517.4 199.5,515.6 206.5,523.4 213.5,524.6 220.5,515.6 227.5,514.4 234.5,521.6 241.5,520.4 248.5,535.0 255.5,538.0 262.5,539.6 269.5,497.0 276.5,492.4 283.5,490.7 290.5,478.4 297.5,479.6 304.5,482.4 311.5,481.6 318.5,508.4 325.5,489.6 332.5,510.4 339.5,497.6 346.5,510.4 353.5,512.6 360.5,504.4 367.5,479.6 374.5,485.4 381.5,477.4 388.5,486.4 395.5,475.0 402.5,471.4 409.5,466.4 416.5,479.4 423.5,459.4 430.5,466.4 437.5,481.0 444.5,500.6 451.5,502.6 458.5,491.0 465.5,470.4 472.5,461.7 479.5,454.0 486.5,442.4 493.5,437.6 500.5,461.4 507.5,461.6 514.5,463.6 521.5,472.4 528.5,471.4 535.5,468.4 542.5,461.6 549.5,463.6 556.5,469.4 563.5,451.6 570.5,450.4 577.5,457.4 584.5,438.6 591.5,437.4 598.5,428.6 605.5,463.6 612.5,453.6 619.5,461.6 626.5,476.0 633.5,489.0 640.5,492.6 647.5,488.6 654.5,477.0 661.5,473.6 668.5,465.4 675.5,462.4 682.5,472.0 689.5,458.4 696.5,451.6 703.5,464.4 710.5,460.6 717.5,484.6 724.5,498.6 731.5,485.6 738.5,476.6 745.5,480.4 752.5,469.0 759.5,463.0 766.5,445.0 773.5,434.6 780.5,434.6 787.5,445.6 794.5,444.0 801.5,440.6 808.5,431.4 815.5,436.4" fill="none" stroke="#22aae8" stroke-width="1" stroke-linejoin="round" shape-rendering="crispEdges"/>
<text x="92.4" y="554.8" font-size="12" fill="#111" textLength="85" lengthAdjust="spacingAndGlyphs">MACD(26,12,9)</text>
<text x="183" y="554.8" font-size="12" fill="#3d96ff" textLength="64" lengthAdjust="spacingAndGlyphs">DIFF:0.0041</text>
<text x="257" y="554.8" font-size="12" fill="#4cc38c" textLength="64" lengthAdjust="spacingAndGlyphs">DEA:0.0030</text>
<text x="330" y="554.8" font-size="12" fill="#3aaeea" textLength="77" lengthAdjust="spacingAndGlyphs">MACD:0.0024</text>
<g shape-rendering="crispEdges">
<rect x="94.0" y="565" width="1" height="34" fill="#e84a5a"/>
<rect x="101.0" y="564" width="1" height="35" fill="#e84a5a"/>
<rect x="108.0" y="564" width="1" height="35" fill="#e84a5a"/>
<rect x="115.0" y="566" width="1" height="33" fill="#e84a5a"/>
<rect x="122.0" y="569" width="1" height="30" fill="#e84a5a"/>
<rect x="129.0" y="575" width="1" height="24" fill="#e84a5a"/>
<rect x="136.0" y="583" width="1" height="16" fill="#e84a5a"/>
<rect x="143.0" y="588" width="1" height="11" fill="#e84a5a"/>
<rect x="150.0" y="598" width="1" height="4" fill="#52b581"/>
<rect x="157.0" y="598" width="1" height="11" fill="#52b581"/>
<rect x="164.0" y="598" width="1" height="9" fill="#52b581"/>
<rect x="171.0" y="598" width="1" height="6" fill="#52b581"/>
<rect x="178.0" y="598" width="1" height="5" fill="#52b581"/>
<rect x="185.0" y="598" width="1" height="8" fill="#52b581"/>
<rect x="192.0" y="598" width="1" height="11" fill="#52b581"/>
<rect x="199.0" y="598" width="1" height="12" fill="#52b581"/>
<rect x="206.0" y="598" width="1" height="14" fill="#52b581"/>
<rect x="213.0" y="598" width="1" height="15" fill="#52b581"/>
<rect x="220.0" y="598" width="1" height="12" fill="#52b581"/>
<rect x="227.0" y="598" width="1" height="9" fill="#52b581"/>
<rect x="234.0" y="598" width="1" height="9" fill="#52b581"/>
<rect x="241.0" y="598" width="1" height="7" fill="#52b581"/>
<rect x="248.0" y="598" width="1" height="10" fill="#52b581"/>
<rect x="255.0" y="598" width="1" height="12" fill="#52b581"/>
<rect x="262.0" y="598" width="1" height="13" fill="#52b581"/>
<rect x="269.0" y="598" width="1" height="5" fill="#52b581"/>
<rect x="276.0" y="595" width="1" height="4" fill="#e84a5a"/>
<rect x="283.0" y="590" width="1" height="9" fill="#e84a5a"/>
<rect x="290.0" y="584" width="1" height="15" fill="#e84a5a"/>
<rect x="297.0" y="580" width="1" height="19" fill="#e84a5a"/>
<rect x="304.0" y="579" width="1" height="20" fill="#e84a5a"/>
<rect x="311.0" y="579" width="1" height="20" fill="#e84a5a"/>
<rect x="318.0" y="585" width="1" height="14" fill="#e84a5a"/>
<rect x="325.0" y="586" width="1" height="13" fill="#e84a5a"/>
<rect x="332.0" y="592" width="1" height="7" fill="#e84a5a"/>
<rect x="339.0" y="593" width="1" height="6" fill="#e84a5a"/>
<rect x="346.0" y="598" width="1" height="1" fill="#e84a5a"/>
<rect x="353.0" y="598" width="1" height="4" fill="#52b581"/>
<rect x="360.0" y="598" width="1" height="4" fill="#52b581"/>
<rect x="367.0" y="595" width="1" height="4" fill="#e84a5a"/>
<rect x="374.0" y="592" width="1" height="7" fill="#e84a5a"/>
<rect x="381.0" y="589" width="1" height="10" fill="#e84a5a"/>
<rect x="388.0" y="589" width="1" height="10" fill="#e84a5a"/>
<rect x="395.0" y="587" width="1" height="12" fill="#e84a5a"/>
<rect x="402.0" y="585" width="1" height="14" fill="#e84a5a"/>
<rect x="409.0" y="582" width="1" height="17" fill="#e84a5a"/>
<rect x="416.0" y="584" width="1" height="15" fill="#e84a5a"/>
<rect x="423.0" y="582" width="1" height="17" fill="#e84a5a"/>
<rect x="430.0" y="582" width="1" height="17" fill="#e84a5a"/>
<rect x="437.0" y="586" width="1" height="13" fill="#e84a5a"/>
<rect x="444.0" y="594" width="1" height="5" fill="#e84a5a"/>
<rect x="451.0" y="598" width="1" height="3" fill="#52b581"/>
<rect x="458.0" y="598" width="1" height="4" fill="#52b581"/>
<rect x="465.0" y="598" width="1" height="1" fill="#e84a5a"/>
<rect x="472.0" y="592" width="1" height="7" fill="#e84a5a"/>
<rect x="479.0" y="586" width="1" height="13" fill="#e84a5a"/>
<rect x="486.0" y="580" width="1" height="19" fill="#e84a5a"/>
<rect x="493.0" y="575" width="1" height="24" fill="#e84a5a"/>
<rect x="500.0" y="578" width="1" height="21" fill="#e84a5a"/>
<rect x="507.0" y="581" width="1" height="18" fill="#e84a5a"/>
<rect x="514.0" y="585" width="1" height="14" fill="#e84a5a"/>
<rect x="521.0" y="590" width="1" height="9" fill="#e84a5a"/>
<rect x="528.0" y="593" width="1" height="6" fill="#e84a5a"/>
<rect x="535.0" y="595" width="1" height="4" fill="#e84a5a"/>
<rect x="542.0" y="595" width="1" height="4" fill="#e84a5a"/>
<rect x="549.0" y="596" width="1" height="3" fill="#e84a5a"/>
<rect x="556.0" y="597" width="1" height="2" fill="#e84a5a"/>
<rect x="563.0" y="595" width="1" height="4" fill="#e84a5a"/>
<rect x="570.0" y="593" width="1" height="6" fill="#e84a5a"/>
<rect x="577.0" y="594" width="1" height="5" fill="#e84a5a"/>
<rect x="584.0" y="590" width="1" height="9" fill="#e84a5a"/>
<rect x="591.0" y="588" width="1" height="11" fill="#e84a5a"/>
<rect x="598.0" y="585" width="1" height="14" fill="#e84a5a"/>
<rect x="605.0" y="590" width="1" height="9" fill="#e84a5a"/>
<rect x="612.0" y="592" width="1" height="7" fill="#e84a5a"/>
<rect x="619.0" y="595" width="1" height="4" fill="#e84a5a"/>
<rect x="626.0" y="598" width="1" height="3" fill="#52b581"/>
<rect x="633.0" y="598" width="1" height="10" fill="#52b581"/>
<rect x="640.0" y="598" width="1" height="14" fill="#52b581"/>
<rect x="647.0" y="598" width="1" height="16" fill="#52b581"/>
<rect x="654.0" y="598" width="1" height="14" fill="#52b581"/>
<rect x="661.0" y="598" width="1" height="12" fill="#52b581"/>
<rect x="668.0" y="598" width="1" height="9" fill="#52b581"/>
<rect x="675.0" y="598" width="1" height="6" fill="#52b581"/>
<rect x="682.0" y="598" width="1" height="5" fill="#52b581"/>
<rect x="689.0" y="598" width="1" height="2" fill="#52b581"/>
<rect x="696.0" y="596" width="1" height="3" fill="#e84a5a"/>
<rect x="703.0" y="596" width="1" height="3" fill="#e84a5a"/>
<rect x="710.0" y="596" width="1" height="3" fill="#e84a5a"/>
<rect x="717.0" y="598" width="1" height="3" fill="#52b581"/>
<rect x="724.0" y="598" width="1" height="9" fill="#52b581"/>
<rect x="731.0" y="598" width="1" height="10" fill="#52b581"/>
<rect x="738.0" y="598" width="1" height="9" fill="#52b581"/>
<rect x="745.0" y="598" width="1" height="8" fill="#52b581"/>
<rect x="752.0" y="598" width="1" height="5" fill="#52b581"/>
<rect x="759.0" y="598" width="1" height="2" fill="#52b581"/>
<rect x="766.0" y="592" width="1" height="7" fill="#e84a5a"/>
<rect x="773.0" y="587" width="1" height="12" fill="#e84a5a"/>
<rect x="780.0" y="583" width="1" height="16" fill="#e84a5a"/>
<rect x="787.0" y="584" width="1" height="15" fill="#e84a5a"/>
<rect x="794.0" y="585" width="1" height="14" fill="#e84a5a"/>
<rect x="801.0" y="585" width="1" height="14" fill="#e84a5a"/>
<rect x="808.0" y="584" width="1" height="15" fill="#e84a5a"/>
<rect x="815.0" y="585" width="1" height="14" fill="#e84a5a"/>
</g>
<polyline points="94.5,638.6 101.5,633.4 108.5,629.4 115.5,625.4 122.5,621.4 129.5,618.2 136.5,616.4 143.5,615.4 150.5,616.0 157.5,617.4 164.5,618.4 171.5,618.6 178.5,619.6 185.5,620.6 192.5,621.6 199.5,623.0 206.5,625.0 213.5,626.6 220.5,627.6 227.5,628.6 234.5,629.6 241.5,630.6 248.5,631.6 255.5,633.0 262.5,634.4 269.5,634.6 276.5,634.0 283.5,633.2 290.5,631.0 297.5,628.4 304.5,626.0 311.5,624.0 318.5,622.4 325.5,621.4 332.5,620.4 339.5,620.2 346.5,620.2 353.5,620.4 360.5,620.6 367.5,620.4 374.5,619.4 381.5,618.4 388.5,617.0 395.5,615.4 402.5,614.0 409.5,612.0 416.5,610.0 423.5,608.0 430.5,606.0 437.5,604.4 444.5,604.2 451.5,604.6 458.5,605.0 465.5,604.6 472.5,604.0 479.5,602.0 486.5,600.0 493.5,597.0 500.5,594.0 507.5,592.4 514.5,591.0 521.5,590.0 528.5,589.0 535.5,588.6 542.5,588.4 549.5,588.2 556.5,588.4 563.5,587.6 570.5,587.0 577.5,586.4 584.5,585.4 591.5,584.0 598.5,583.0 605.5,582.0 612.5,581.0 619.5,580.6 626.5,581.6 633.5,582.6 640.5,584.0 647.5,586.0 654.5,587.4 661.5,588.4 668.5,589.6 675.5,590.4 682.5,590.6 689.5,591.0 696.5,590.4 703.5,590.2 710.5,590.0 717.5,590.2 724.5,591.4 731.5,592.6 738.5,593.4 745.5,594.4 752.5,594.6 759.5,595.0 766.5,594.6 773.5,593.4 780.5,591.6 787.5,589.6 794.5,588.0 801.5,586.0 808.5,584.4 815.5,582.4" fill="none" stroke="#33c08c" stroke-width="1" stroke-linejoin="round" shape-rendering="crispEdges"/>
<polyline points="94.5,621.6 101.5,616.0 108.5,612.0 115.5,609.0 122.5,607.4 129.5,607.4 136.5,609.4 143.5,610.6 150.5,617.0 157.5,622.6 164.5,622.6 171.5,621.4 178.5,621.4 185.5,624.0 192.5,627.0 199.5,629.0 206.5,631.6 213.5,633.6 220.5,633.6 227.5,632.6 234.5,633.4 241.5,633.6 248.5,636.0 255.5,639.0 262.5,640.4 269.5,636.0 276.5,632.0 283.5,629.0 290.5,624.0 297.5,620.6 304.5,617.4 311.5,614.4 318.5,616.6 325.5,615.6 332.5,617.4 339.5,617.6 346.5,619.6 353.5,621.4 360.5,621.4 367.5,618.6 374.5,616.4 381.5,613.6 388.5,612.0 395.5,609.4 402.5,607.6 409.5,604.6 416.5,603.4 423.5,600.4 430.5,598.6 437.5,598.6 444.5,602.0 451.5,605.0 458.5,606.4 465.5,604.6 472.5,600.2 479.5,596.0 486.5,590.6 493.5,585.4 500.5,585.4 507.5,584.0 514.5,584.4 521.5,586.0 528.5,587.4 535.5,587.6 542.5,587.4 549.5,587.4 556.5,588.4 563.5,586.6 570.5,585.4 577.5,584.4 584.5,582.4 591.5,579.4 598.5,576.4 605.5,578.4 612.5,578.4 619.5,579.6 626.5,582.4 633.5,586.4 640.5,590.0 647.5,593.6 654.5,594.6 661.5,594.6 668.5,593.4 675.5,592.6 682.5,592.6 689.5,591.0 696.5,589.6 703.5,589.6 710.5,589.6 717.5,591.0 724.5,595.0 731.5,597.6 738.5,597.6 745.5,597.6 752.5,596.6 759.5,596.0 766.5,592.4 773.5,587.4 780.5,583.6 787.5,582.0 794.5,580.6 801.5,579.0 808.5,577.6 815.5,576.4" fill="none" stroke="#2a8cff" stroke-width="1" stroke-linejoin="round" shape-rendering="crispEdges"/>
<g shape-rendering="crispEdges"><rect x="913.5" y="568.5" width="67" height="16" fill="#fff" stroke="#e0e4ea" stroke-width="1"/></g>
<text x="914.5" y="581.3" font-size="12" fill="#ff8c1a" textLength="37" lengthAdjust="spacingAndGlyphs">0.0056</text>
<g><circle cx="29" cy="547.9" r="3.6" fill="none" stroke="#000" stroke-width="1"/><circle cx="29" cy="547.9" r="2" fill="#ff0000"/>
<line x1="34.1" y1="547.9" x2="36.2" y2="547.9" stroke="#ff0000" stroke-width="1"/>
<line x1="32.8" y1="551.7" x2="34.5" y2="553.4" stroke="#ff0000" stroke-width="1"/>
<line x1="29.0" y1="553.0" x2="29.0" y2="555.1" stroke="#ff0000" stroke-width="1"/>
<line x1="25.2" y1="551.7" x2="23.5" y2="553.4" stroke="#ff0000" stroke-width="1"/>
<line x1="23.9" y1="547.9" x2="21.8" y2="547.9" stroke="#ff0000" stroke-width="1"/>
<line x1="25.2" y1="544.1" x2="23.5" y2="542.4" stroke="#ff0000" stroke-width="1"/>
<line x1="29.0" y1="542.8" x2="29.0" y2="540.7" stroke="#ff0000" stroke-width="1"/>
<line x1="32.8" y1="544.1" x2="34.5" y2="542.4" stroke="#ff0000" stroke-width="1"/>
</g>
<g shape-rendering="crispEdges">
<rect x="192.0" y="659" width="1" height="5" fill="#c9d1db"/>
<rect x="339.0" y="659" width="1" height="5" fill="#c9d1db"/>
<rect x="500.0" y="659" width="1" height="5" fill="#c9d1db"/>
<rect x="647.0" y="659" width="1" height="5" fill="#c9d1db"/>
</g>
<text x="194.5" y="671.3" font-size="12" fill="#1c1f2a" font-weight="bold" textLength="44.5" lengthAdjust="spacingAndGlyphs">2025/06</text>
<text x="341.5" y="671.3" font-size="12" fill="#1c1f2a" font-weight="bold" textLength="44.5" lengthAdjust="spacingAndGlyphs">2025/07</text>
<text x="502.5" y="671.3" font-size="12" fill="#1c1f2a" font-weight="bold" textLength="44.5" lengthAdjust="spacingAndGlyphs">2025/08</text>
<text x="649.5" y="671.3" font-size="12" fill="#1c1f2a" font-weight="bold" textLength="44.5" lengthAdjust="spacingAndGlyphs">2025/09</text>
<text x="34.3 46.6" y="675.2" font-size="13.2" font-weight="bold" font-family="'Liberation Sans', 'Noto Sans CJK SC', sans-serif" fill="#ff7f00">日线</text>
<path d="M64.5 673 L68.9 664.4 L73.3 673 Z" fill="#ff7f00"/>
<g shape-rendering="crispEdges"><rect x="19" y="658" width="72" height="1" fill="#c6cfda"/><rect x="90" y="658" width="1" height="19" fill="#c6cfda"/><rect x="19" y="658" width="1" height="19" fill="#c6cfda"/></g>
<text transform="scale(0.89,1)" x="958.7 981.6 1006.6 1029.7 1051.8" y="652.6" font-size="31.5" fill="#dae6f4" style="text-shadow:1px 1px 1px rgba(170,140,110,0.7)">FX678</text>
</svg>
</body></html>
